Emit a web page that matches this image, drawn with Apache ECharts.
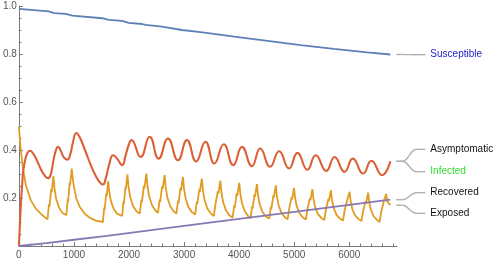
<!DOCTYPE html>
<html>
<head>
<meta charset="utf-8">
<script src="https://cdn.jsdelivr.net/npm/echarts@6/dist/echarts.min.js"></script>
<style>
  html, body { margin: 0; padding: 0; background: #fff; }
  #main { width: 500px; height: 263px; }
</style>
</head>
<body>
<div id="main"></div>
<script>
// tick positions / labels
var xMajorTicks = [0, 1000, 2000, 3000, 4000, 5000, 6000];
var xMinorTicks = [200, 400, 600, 800, 1200, 1400, 1600, 1800, 2200, 2400, 2600, 2800,
  3200, 3400, 3600, 3800, 4200, 4400, 4600, 4800, 5200, 5400, 5600, 5800, 6200, 6400, 6600, 6800];

// [time, fraction]
var susceptible = [
  [0, 0.988], [488, 0.979], [540, 0.978], [640, 0.970], [850, 0.967], [970, 0.960],
  [1513, 0.949], [1633, 0.942], [1875, 0.938], [1995, 0.930], [2237, 0.925], [2300, 0.921],
  [2599, 0.914], [2960, 0.900], [3260, 0.892], [3472, 0.886], [3911, 0.872], [4515, 0.855],
  [5118, 0.837], [5720, 0.821], [6324, 0.807], [6745, 0.798]
];

var exposed = [
  [0, 0.497], [30, 0.41], [78, 0.316], [127, 0.253], [217, 0.19], [307, 0.156], [428, 0.128],
  [519, 0.111], [546, 0.174], [555, 0.163], [586, 0.237], [595, 0.224], [627, 0.291],
  [647, 0.239], [677, 0.196], [727, 0.161], [787, 0.139],
  [862, 0.128], [886, 0.196], [894, 0.185], [922, 0.265], [929, 0.251], [958, 0.323],
  [990, 0.26], [1040, 0.2], [1100, 0.165], [1200, 0.133], [1300, 0.116], [1400, 0.106],
  [1525, 0.100], [1549, 0.160], [1557, 0.149], [1585, 0.219], [1593, 0.207], [1622, 0.27],
  [1642, 0.224], [1672, 0.186], [1722, 0.154], [1782, 0.135],
  [1875, 0.125], [1899, 0.186], [1907, 0.175], [1935, 0.247], [1942, 0.235], [1971, 0.299],
  [1991, 0.247], [2021, 0.204], [2071, 0.168], [2131, 0.146],
  [2195, 0.135], [2225, 0.193], [2235, 0.183], [2269, 0.252], [2279, 0.240], [2315, 0.302],
  [2335, 0.250], [2365, 0.207], [2415, 0.171], [2475, 0.149],
  [2526, 0.138], [2556, 0.193], [2566, 0.184], [2600, 0.248], [2610, 0.237], [2646, 0.295],
  [2666, 0.244], [2696, 0.202], [2746, 0.167], [2806, 0.146],
  [2860, 0.135], [2890, 0.189], [2900, 0.179], [2934, 0.242], [2944, 0.231], [2979, 0.288],
  [2999, 0.238], [3029, 0.197], [3079, 0.162], [3139, 0.142],
  [3200, 0.131], [3230, 0.184], [3240, 0.175], [3275, 0.236], [3285, 0.226], [3322, 0.281],
  [3342, 0.231], [3372, 0.191], [3422, 0.156], [3482, 0.136],
  [3540, 0.125], [3570, 0.176], [3580, 0.168], [3613, 0.228], [3623, 0.218], [3658, 0.272],
  [3678, 0.223], [3708, 0.183], [3758, 0.149], [3818, 0.129],
  [3880, 0.118], [3910, 0.169], [3920, 0.160], [3955, 0.220], [3965, 0.209], [4002, 0.263],
  [4022, 0.216], [4052, 0.177], [4102, 0.145], [4162, 0.125],
  [4205, 0.115], [4234, 0.165], [4244, 0.156], [4278, 0.215], [4287, 0.205], [4322, 0.258],
  [4342, 0.212], [4372, 0.174], [4422, 0.143], [4482, 0.124],
  [4545, 0.114], [4575, 0.163], [4585, 0.154], [4619, 0.211], [4629, 0.202], [4665, 0.253],
  [4685, 0.208], [4715, 0.171], [4765, 0.139], [4825, 0.121],
  [4880, 0.111], [4909, 0.157], [4918, 0.149], [4952, 0.203], [4961, 0.194], [4996, 0.242],
  [5016, 0.200], [5046, 0.165], [5096, 0.136], [5156, 0.119],
  [5210, 0.110], [5240, 0.154], [5249, 0.147], [5284, 0.199], [5293, 0.190], [5329, 0.237],
  [5349, 0.196], [5379, 0.162], [5429, 0.134], [5489, 0.117],
  [5545, 0.108], [5575, 0.152], [5585, 0.144], [5619, 0.196], [5629, 0.187], [5665, 0.233],
  [5685, 0.192], [5715, 0.159], [5765, 0.131], [5825, 0.115],
  [5885, 0.106], [5915, 0.148], [5924, 0.141], [5959, 0.190], [5968, 0.182], [6004, 0.226],
  [6024, 0.187], [6054, 0.155], [6104, 0.128], [6164, 0.113],
  [6220, 0.104], [6250, 0.145], [6260, 0.138], [6296, 0.187], [6305, 0.178], [6342, 0.222],
  [6362, 0.183], [6392, 0.151], [6442, 0.124], [6502, 0.109],
  [6550, 0.100], [6579, 0.141], [6589, 0.134], [6623, 0.182], [6632, 0.174], [6667, 0.217],
  [6690, 0.185], [6745, 0.170]
];

var asymptomatic = [
  [0, 0], [20, 0.1], [40, 0.19], [60, 0.26], [80, 0.315], [120, 0.365], [160, 0.39], [199, 0.397],
  [260, 0.385], [330, 0.355], [400, 0.32], [470, 0.293], [530, 0.282], [580, 0.3], [630, 0.36],
  [680, 0.405], [711, 0.413], [760, 0.397], [820, 0.368], [880, 0.36], [930, 0.38], [980, 0.43],
  [1043, 0.471], [1100, 0.455], [1200, 0.4], [1300, 0.34], [1400, 0.29], [1470, 0.265], [1525, 0.256],
  [1580, 0.285], [1640, 0.34], [1712, 0.378], [1780, 0.365], [1875, 0.337], [1940, 0.38], [2000, 0.425],
  [2043, 0.441], [2210, 0.371], [2374, 0.455], [2537, 0.364], [2707, 0.448], [2888, 0.357],
  [3051, 0.441], [3219, 0.352], [3387, 0.434], [3550, 0.344], [3720, 0.424], [3893, 0.337],
  [4051, 0.413], [4231, 0.333], [4382, 0.406], [4562, 0.33], [4725, 0.395], [4906, 0.323],
  [5058, 0.388], [5239, 0.318], [5389, 0.378], [5582, 0.313], [5732, 0.371], [5913, 0.309],
  [6063, 0.364], [6251, 0.302], [6401, 0.355], [6595, 0.295], [6745, 0.353]
];

var recovered = [
  [0, 0], [500, 0.012], [1000, 0.026], [1600, 0.042], [2300, 0.063], [3000, 0.084],
  [4000, 0.113], [5000, 0.142], [6000, 0.171], [6745, 0.193]
];

var labelNames = ['Susceptible', 'Asymptomatic', 'Infected', 'Recovered', 'Exposed'];
var labelColors = ['#2222cc', '#111111', '#33dd33', '#111111', '#111111'];
// which drawn series each callout points to
var labelTarget = [0, 2, 2, 3, 1];
var labelY = [54.7, 149.3, 171.7, 192.7, 213.3];

var axisGray = '#7a7a7a';
var textGray = '#555555';
var labelFont = 'Liberation Sans, Arial, sans-serif';

var chart = echarts.init(document.getElementById('main'));

var option = {
  animation: false,
  grid: { left: 17, right: 103, top: 6, bottom: 17 },
  xAxis: [
    {
      type: 'value', min: 0, max: 6866, interval: 1000,
      axisLine: { onZero: false, lineStyle: { color: axisGray, width: 1 } },
      axisTick: { show: true, inside: true, length: 4, customValues: xMajorTicks, lineStyle: { color: axisGray, width: 1 } },
      axisLabel: {
        customValues: xMajorTicks, color: textGray, fontSize: 10, margin: 4, fontFamily: labelFont,
        formatter: function (v) { return String(v); }
      },
      splitLine: { show: false }
    },
    {
      type: 'value', min: 0, max: 6866, position: 'bottom',
      axisLine: { show: false, onZero: false },
      axisTick: { show: true, inside: true, length: 2.5, customValues: xMinorTicks, lineStyle: { color: axisGray, width: 1 } },
      axisLabel: { show: false },
      splitLine: { show: false }
    }
  ],
  yAxis: {
    type: 'value', min: 0, max: 1, interval: 0.2,
    axisLine: { show: true, onZero: false, lineStyle: { color: axisGray, width: 1 } },
    axisTick: { show: true, inside: true, length: 4, lineStyle: { color: axisGray, width: 1 } },
    minorTick: { show: true, splitNumber: 4, length: 2.5, lineStyle: { color: axisGray, width: 1 } },
    axisLabel: {
      color: textGray, fontSize: 10, margin: 2, fontFamily: labelFont,
      formatter: function (v) { return v === 0 ? '' : v.toFixed(1); }
    },
    splitLine: { show: false }
  },
  series: [
    { name: 'Susceptible', type: 'line', data: susceptible, showSymbol: false, lineStyle: { color: '#5E81B5', width: 1.8 } },
    { name: 'Exposed', type: 'line', data: exposed, showSymbol: false, lineStyle: { color: '#E19C24', width: 1.8 } },
    { name: 'Asymptomatic', type: 'line', data: asymptomatic, smooth: 0.5, showSymbol: false, lineStyle: { color: '#DC6036', width: 2.1 } },
    { name: 'Recovered', type: 'line', data: recovered, showSymbol: false, lineStyle: { color: '#8778B3', width: 1.8 } }
  ]
};
chart.setOption(option);

// callout lines + labels to the right of the plot
var seriesData = [susceptible, exposed, asymptomatic, recovered];
var elements = [];
labelNames.forEach(function (name, i) {
  var d = seriesData[labelTarget[i]];
  var end = chart.convertToPixel({ xAxisIndex: 0, yAxisIndex: 0 }, d[d.length - 1]);
  var sx = end[0] + 6, sy = end[1], ly = labelY[i];
  var lineStyle = { stroke: '#b0b0b0', lineWidth: 1.4, fill: null };
  elements.push({ type: 'line', shape: { x1: sx, y1: sy, x2: sx + 6, y2: sy }, style: lineStyle, silent: true });
  elements.push({
    type: 'bezierCurve',
    shape: { x1: sx + 6, y1: sy, cpx1: sx + 12, cpy1: sy, cpx2: sx + 14, cpy2: ly, x2: sx + 20, y2: ly },
    style: lineStyle, silent: true
  });
  elements.push({ type: 'line', shape: { x1: sx + 20, y1: ly, x2: sx + 29, y2: ly }, style: lineStyle, silent: true });
  elements.push({
    type: 'text', x: sx + 34, y: ly,
    style: { text: name, fill: labelColors[i], font: '10px "Liberation Sans", Arial, sans-serif', verticalAlign: 'middle', textAlign: 'left' },
    silent: true
  });
});
chart.setOption({ graphic: { elements: elements } });
</script>
</body>
</html>
